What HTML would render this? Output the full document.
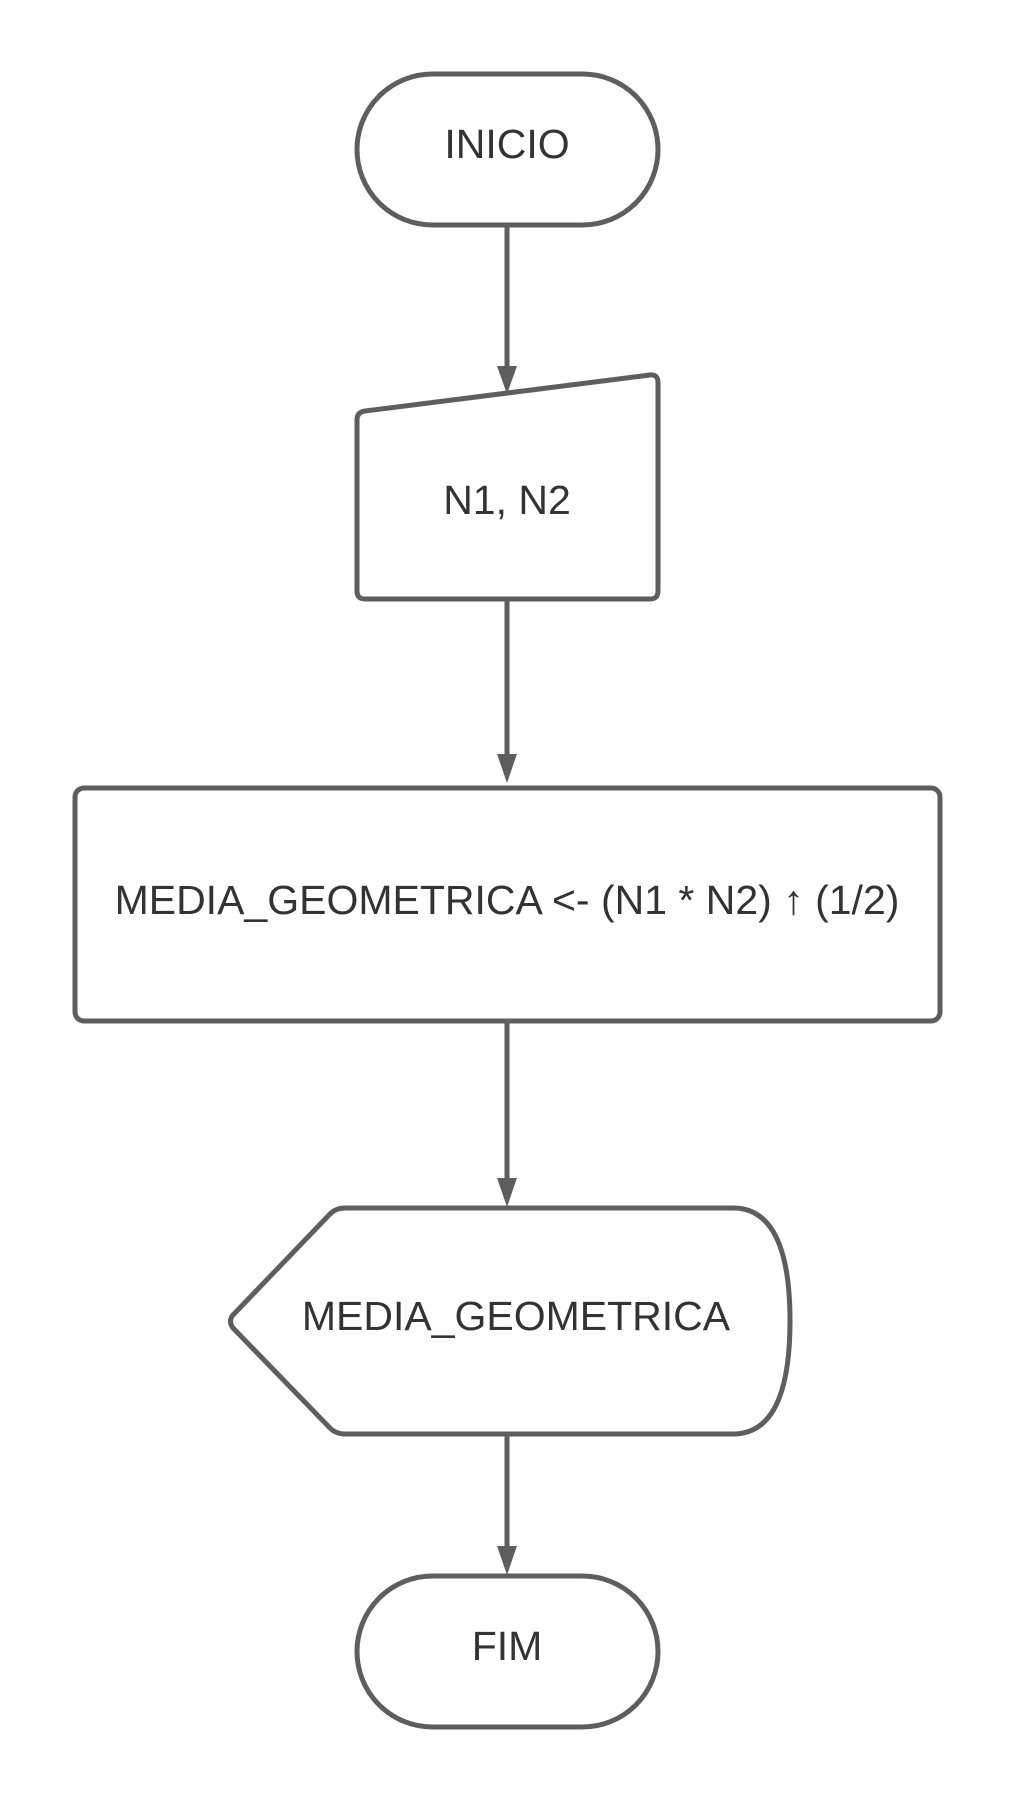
<!DOCTYPE html>
<html><head><meta charset="utf-8"><style>
html,body{margin:0;padding:0;background:#fff;}
svg{display:block;}
text{font-family:"Liberation Sans",Arial,sans-serif;fill:#333;font-size:41px;text-anchor:middle;dominant-baseline:central;}
</style></head><body>
<svg width="1013" height="1800" viewBox="0 0 1013 1800" xmlns="http://www.w3.org/2000/svg">
<g fill="none" stroke="#5e5e5e" stroke-width="5" stroke-linejoin="round">
<rect x="357" y="74" width="301" height="151" rx="75.5" fill="#fff"/>
<path d="M365 411 L650 375 Q658 374 658 383 L658 591 Q658 599 650 599 L365 599 Q357 599 357 591 L357 420 Q357 412 365 411 Z" fill="#fff"/>
<rect x="75" y="788" width="865" height="233" rx="9" fill="#fff"/>
<path d="M345 1208 L733 1208 Q790 1208 790 1321 Q790 1434 733 1434 L345 1434 Q336 1434 330 1428 L233 1328 Q228 1321 233 1315 L330 1214 Q336 1208 345 1208 Z" fill="#fff"/>
<rect x="357" y="1576" width="301" height="151" rx="75.5" fill="#fff"/>
<line x1="507" y1="225" x2="507" y2="368"/>
<line x1="507" y1="599" x2="507" y2="756"/>
<line x1="507" y1="1021" x2="507" y2="1180"/>
<line x1="507" y1="1434" x2="507" y2="1548"/>
</g>
<g fill="#5e5e5e">
<polygon points="497,366 517,366 507,394"/>
<polygon points="497,754 517,754 507,783"/>
<polygon points="497,1178 517,1178 507,1207"/>
<polygon points="497,1546 517,1546 507,1575"/>
</g>
<text x="507" y="144">INICIO</text>
<text x="507" y="500">N1, N2</text>
<text x="507" y="900">MEDIA_GEOMETRICA &lt;- (N1 * N2) ↑ (1/2)</text>
<text x="516" y="1316">MEDIA_GEOMETRICA</text>
<text x="507" y="1646">FIM</text>
</svg>
</body></html>
